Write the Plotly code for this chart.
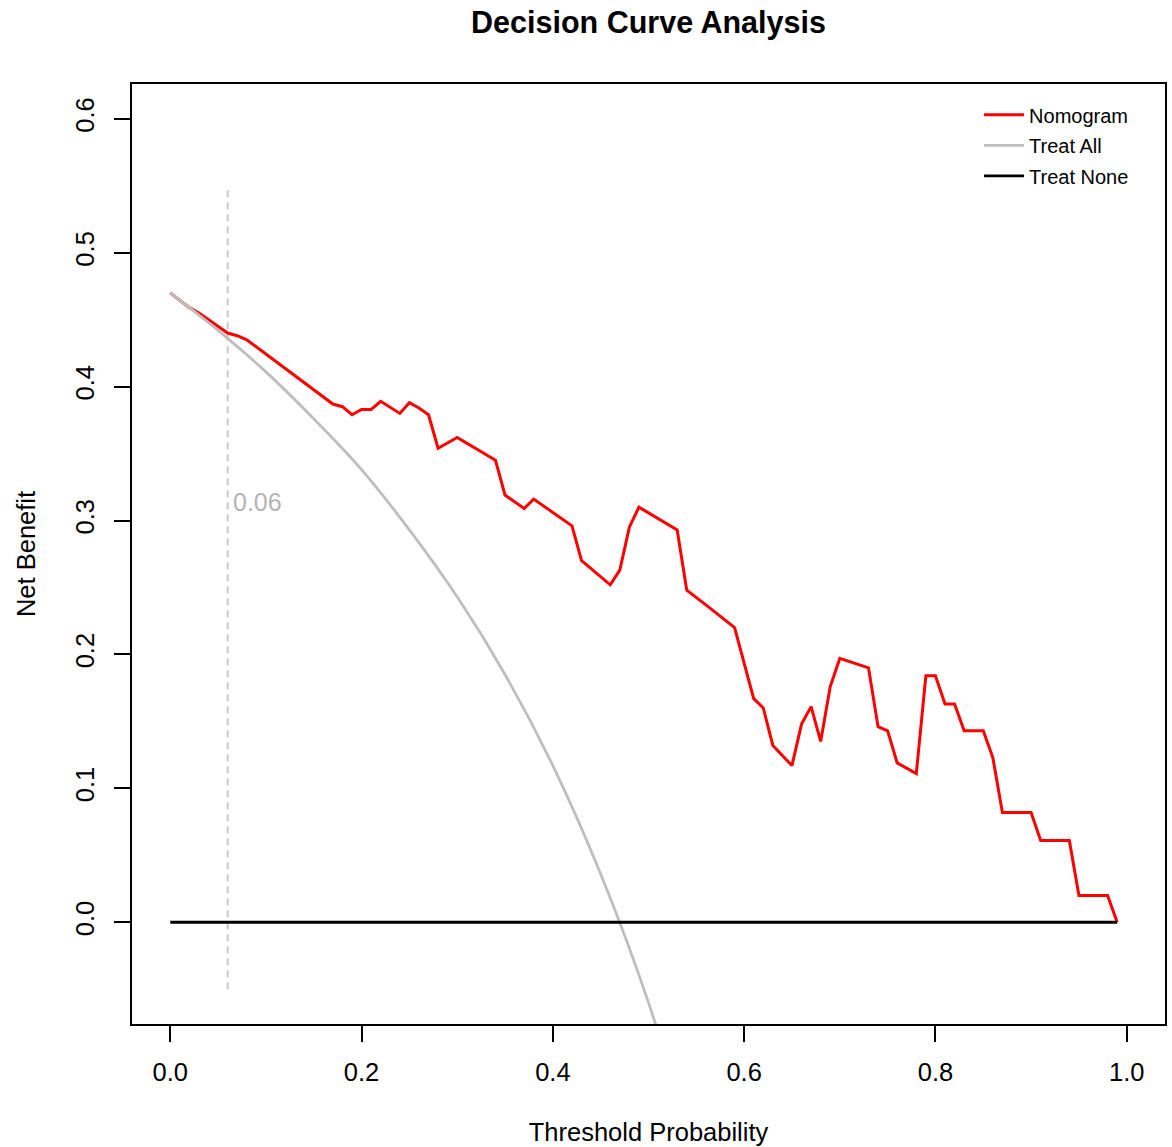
import plotly.graph_objects as go

# ---- data ----
nomo_x = [0.00, 0.02, 0.03, 0.06, 0.07, 0.08, 0.17, 0.18, 0.19, 0.20, 0.21, 0.22,
          0.24, 0.25, 0.26, 0.27, 0.28, 0.30, 0.34, 0.35, 0.37, 0.38, 0.42, 0.43,
          0.46, 0.47, 0.48, 0.49, 0.53, 0.54, 0.56, 0.59, 0.61, 0.62, 0.63, 0.65,
          0.66, 0.67, 0.68, 0.69, 0.70, 0.73, 0.74, 0.75, 0.76, 0.78, 0.79, 0.80,
          0.81, 0.82, 0.83, 0.85, 0.86, 0.87, 0.90, 0.91, 0.94, 0.95, 0.98, 0.99]
nomo_y = [0.470, 0.459, 0.455, 0.440, 0.438, 0.435, 0.387, 0.385, 0.379, 0.383, 0.383, 0.389,
          0.380, 0.388, 0.384, 0.379, 0.354, 0.362, 0.345, 0.319, 0.309, 0.316, 0.296, 0.270,
          0.252, 0.263, 0.295, 0.310, 0.293, 0.248, 0.237, 0.220, 0.167, 0.160, 0.132, 0.117,
          0.148, 0.161, 0.135, 0.176, 0.197, 0.190, 0.146, 0.143, 0.119, 0.111, 0.184, 0.184,
          0.163, 0.163, 0.143, 0.143, 0.123, 0.082, 0.082, 0.061, 0.061, 0.020, 0.020, 0.000]

all_x = [0.00, 0.05, 0.10, 0.15, 0.20, 0.25, 0.30, 0.35, 0.40, 0.45, 0.50, 0.55]
all_y = [0.470, 0.442, 0.411, 0.376, 0.338, 0.293, 0.243, 0.185, 0.117, 0.036, -0.060, -0.178]

none_x = [0.00, 0.99]
none_y = [0.0, 0.0]

cutoff = 0.06
cutoff_y = [-0.05, 0.55]
cutoff_label = "0.06"

x_ticks = [0.0, 0.2, 0.4, 0.6, 0.8, 1.0]
y_ticks = [0.0, 0.1, 0.2, 0.3, 0.4, 0.5, 0.6]

FONT = "Liberation Sans, Arial, Helvetica, sans-serif"

fig = go.Figure()

fig.add_trace(go.Scatter(x=[cutoff, cutoff], y=cutoff_y, mode="lines",
                         line=dict(color="#C4C4C4", width=1.8, dash="7px,5px"),
                         showlegend=False, hoverinfo="skip"))
fig.add_trace(go.Scatter(x=nomo_x, y=nomo_y, mode="lines", name="Nomogram",
                         legendgroup="a", line=dict(color="#FF0000", width=3)))
fig.add_trace(go.Scatter(x=all_x, y=all_y, mode="lines", name="Treat All",
                         legendgroup="b",
                         line=dict(color="#BEBEBE", width=2.8, shape="spline")))
fig.add_trace(go.Scatter(x=none_x, y=none_y, mode="lines", name="Treat None",
                         legendgroup="c", line=dict(color="#000000", width=2.8)))

fig.add_annotation(x=cutoff, y=0.314, text=cutoff_label, showarrow=False,
                   xanchor="left", yanchor="middle", xshift=3,
                   font=dict(family=FONT, size=25, color="#B4B4B4"))

fig.update_layout(
    width=1172, height=1147,
    margin=dict(l=132, r=5, t=84, b=122),
    paper_bgcolor="white", plot_bgcolor="white",
    font=dict(family=FONT, size=25, color="black"),
    title=dict(text="<b>Decision Curve Analysis</b>", x=(132 + 1165) / 2 / 1172,
               xanchor="center", y=1 - 22 / 1147, yanchor="middle",
               font=dict(family=FONT, size=30.5, color="black")),
    legend=dict(x=0.82, y=0.988, xanchor="left", yanchor="top",
                font=dict(family=FONT, size=20, color="black"),
                bgcolor="rgba(0,0,0,0)", borderwidth=0,
                traceorder="grouped", tracegroupgap=1.5, itemwidth=40),
    showlegend=True,
)

fig.update_xaxes(range=[-0.04, 1.04], tickvals=x_ticks, tickformat=".1f",
                 showgrid=False, zeroline=False,
                 showline=True, mirror=True, linecolor="black", linewidth=1.5,
                 ticks="outside", ticklen=16, tickwidth=1.5, tickcolor="black",
                 ticklabelstandoff=9,
                 tickfont=dict(family=FONT, size=25.5),
                 title=dict(text="Threshold Probability", standoff=38,
                            font=dict(family=FONT, size=25.5)))
fig.update_yaxes(range=[-0.076, 0.626], tickvals=y_ticks, tickformat=".1f",
                 tickangle=-90,
                 showgrid=False, zeroline=False,
                 showline=True, mirror=True, linecolor="black", linewidth=1.5,
                 ticks="outside", ticklen=16, tickwidth=1.5, tickcolor="black",
                 ticklabelstandoff=10,
                 tickfont=dict(family=FONT, size=25.5),
                 title=dict(text="Net Benefit", standoff=28,
                            font=dict(family=FONT, size=25.5)))

fig.write_html("out.html", config={"displayModeBar": False},
               post_script="document.body.style.margin='0px';")
